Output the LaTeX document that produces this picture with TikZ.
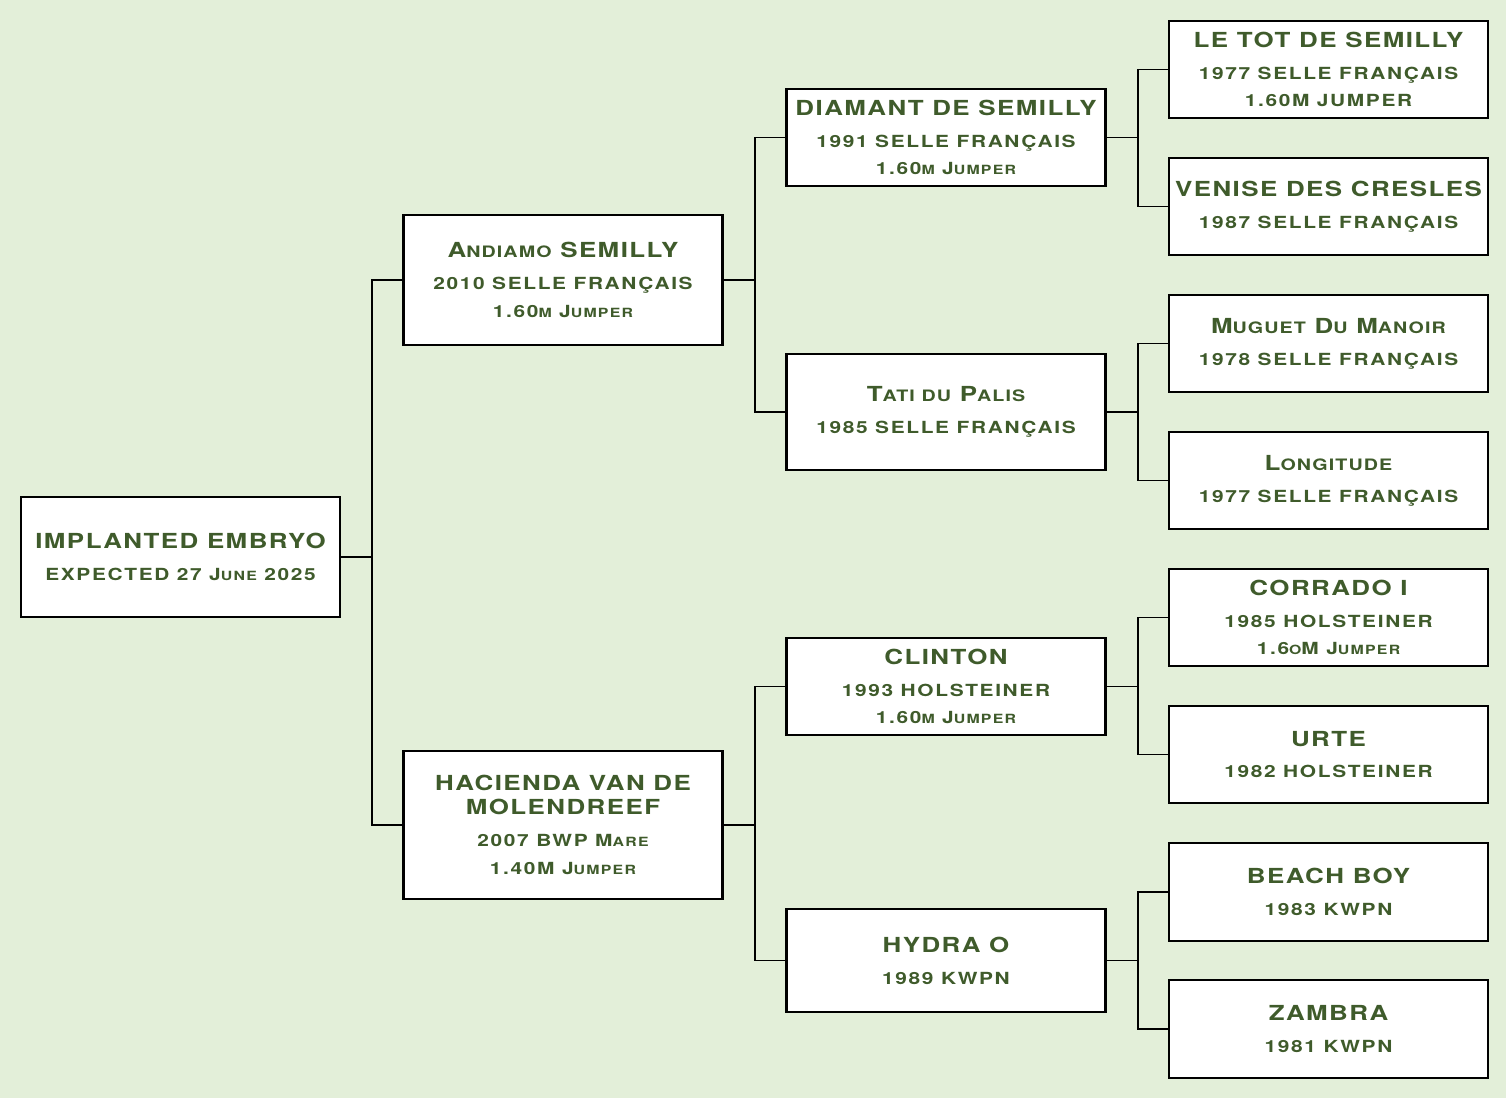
\documentclass[tikz,border=0pt]{standalone}
\usepackage{fontspec}
\setmainfont{TeX Gyre Heros}[LetterSpace=10,FakeStretch=1.25]
\newfontfamily\namefam{TeX Gyre Heros}[LetterSpace=7,FakeStretch=1.25]
\definecolor{pedbg}{HTML}{E3EFD9}
\definecolor{pedtext}{HTML}{3F5B2B}
\makeatletter
\newcommand\lc[1]{{\fontsize{\strip@pt\dimexpr0.76\dimexpr\f@size pt\relax\relax}{\f@baselineskip}\selectfont#1}}
\makeatother
\newcommand\hname[1]{{\namefam\bfseries\fontsize{11.8}{13.6}\selectfont #1}}
\begin{document}
\begin{tikzpicture}[x=0.02cm,y=-0.02cm,
    horse/.style={draw=black,fill=white,line width=1.6pt,minimum width=6.38cm,inner sep=0pt,
      align=center,text=pedtext,font=\bfseries\fontsize{9.5}{15.9}\selectfont},
    link/.style={draw=black,line width=1.1pt}]
        \fill[pedbg] (0,0) rectangle (1506,1098);
        \useasboundingbox (0,0) rectangle (1506,1098);
        % generation 0 and 1
        \node[horse,minimum height=2.4cm] (emb) at (180.5,557) {\hname{IMPLANTED EMBRYO}\\[2.2pt]EXPECTED 27 J\lc{UNE} 2025};
        \node[horse,minimum height=2.6cm] (and) at (563,280) {\hname{A\lc{NDIAMO} SEMILLY}\\[2.2pt]2010 SELLE FRANÇAIS\\1.60\lc{M} J\lc{UMPER}};
        \node[horse,minimum height=2.96cm] (hac) at (563,825) {\hname{HACIENDA VAN DE}\\[-2.3pt]\hname{MOLENDREEF}\\[2.2pt]2007 BWP M\lc{ARE}\\1.40M J\lc{UMPER}};
        % generation 2
        \node[horse,minimum height=1.94cm] (dia) at (946,137.5) {\hname{DIAMANT DE SEMILLY}\\[2.2pt]1991 SELLE FRANÇAIS\\1.60\lc{M} J\lc{UMPER}};
        \node[horse,minimum height=2.32cm] (tat) at (946,412) {\hname{T\lc{ATI DU} P\lc{ALIS}}\\[2.2pt]1985 SELLE FRANÇAIS};
        \node[horse,minimum height=1.94cm] (cli) at (946,686.5) {\hname{CLINTON}\\[2.2pt]1993 HOLSTEINER\\1.60\lc{M} J\lc{UMPER}};
        \node[horse,minimum height=2.06cm] (hyd) at (946,960.5) {\hname{HYDRA O}\\[2.2pt]1989 KWPN};
        % generation 3
        \node[horse,minimum height=1.94cm] (let) at (1328.5,69.5) {\hname{LE TOT DE SEMILLY}\\[2.2pt]1977 SELLE FRANÇAIS\\1.60M JUMPER};
        \node[horse,minimum height=1.94cm] (ven) at (1328.5,206.5) {\hname{VENISE DES CRESLES}\\[2.2pt]1987 SELLE FRANÇAIS};
        \node[horse,minimum height=1.94cm] (mug) at (1328.5,343.5) {\hname{M\lc{UGUET} D\lc{U} M\lc{ANOIR}}\\[2.2pt]1978 SELLE FRANÇAIS};
        \node[horse,minimum height=1.94cm] (lon) at (1328.5,480.5) {\hname{L\lc{ONGITUDE}}\\[2.2pt]1977 SELLE FRANÇAIS};
        \node[horse,minimum height=1.94cm] (cor) at (1328.5,617.5) {\hname{CORRADO I}\\[2.2pt]1985 HOLSTEINER\\1.6\lc{O}M J\lc{UMPER}};
        \node[horse,minimum height=1.94cm] (urt) at (1328.5,754.5) {\hname{URTE}\\[2.2pt]1982 HOLSTEINER};
        \node[horse,minimum height=1.96cm] (bea) at (1328.5,892) {\hname{BEACH BOY}\\[2.2pt]1983 KWPN};
        \node[horse,minimum height=1.96cm] (zam) at (1328.5,1029) {\hname{ZAMBRA}\\[2.2pt]1981 KWPN};
        % brackets from each horse to its sire and dam
        \foreach \p/\s/\d in {emb/and/hac,and/dia/tat,hac/cli/hyd,dia/let/ven,tat/mug/lon,cli/cor/urt,hyd/bea/zam}
          \draw[link] (\p.east) -- ++(31,0) coordinate (fork) |- (\s.west) (fork) |- (\d.west);
\end{tikzpicture}
\end{document}
